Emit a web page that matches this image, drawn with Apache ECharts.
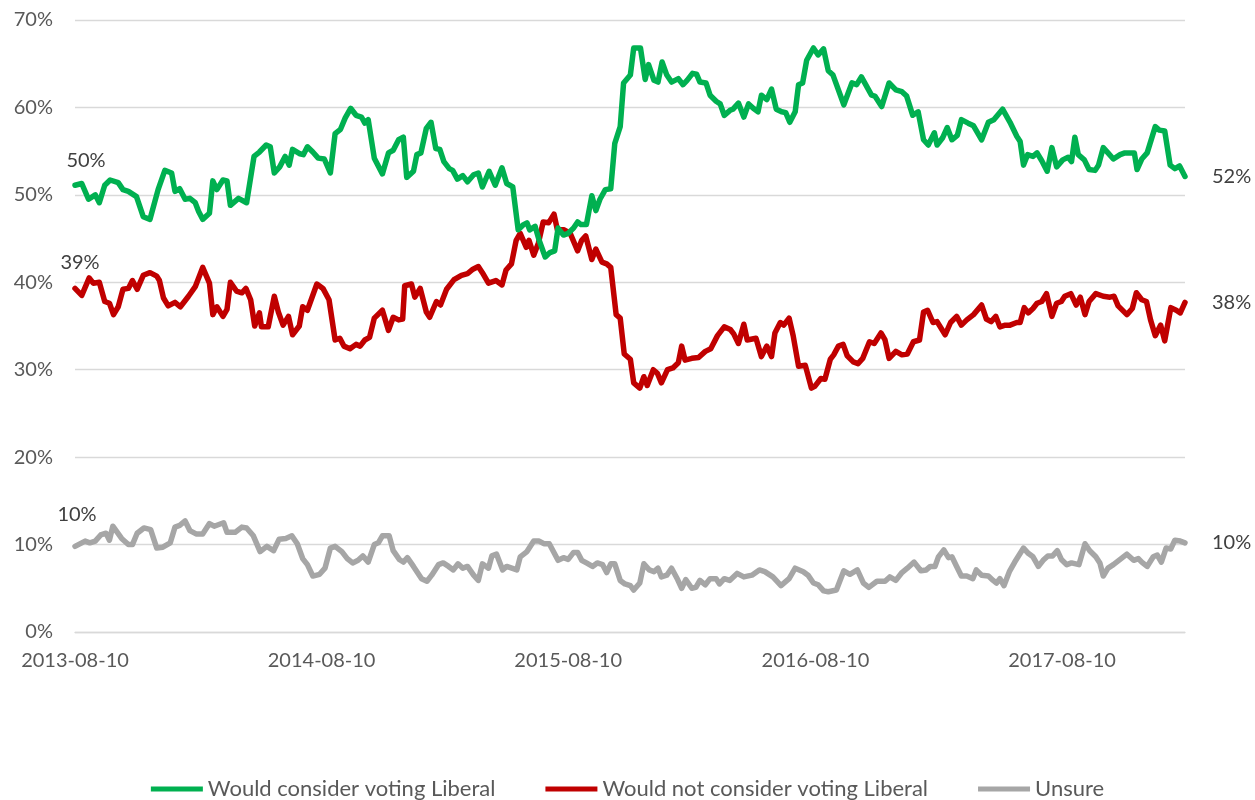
<!DOCTYPE html>
<html>
<head>
<meta charset="utf-8">
<script src="https://cdn.jsdelivr.net/npm/echarts@6/dist/echarts.min.js"></script>
<style>
html,body{margin:0;padding:0;background:#fff;}
#chart{width:1255px;height:800px;}
</style>
</head>
<body>
<div id="chart"></div>
<script>
// ---- Data ----
const startDate = '2013-08-10';
const endDate = '2018-02-08';
const tickLabels = ['2013-08-10', '2014-08-10', '2015-08-10', '2016-08-10', '2017-08-10'];
const seriesNames = ['Would consider voting Liberal', 'Would not consider voting Liberal', 'Unsure'];
const startLabels = ['50%', '39%', '10%'];
const endLabels = ['52%', '38%', '10%'];

// days since start date / percentage
const considerDays = [0,10,20,30,36,44,52,64,71,79,91,101,111,123,133,143,148,155,163,170,178,183,189,199,204,210,219,225,230,242,254,265,273,283,289,295,303,311,317,322,333,338,344,352,360,369,373,378,385,393,400,408,416,424,429,434,443,455,464,471,479,486,491,501,506,512,520,527,534,540,546,554,559,566,574,581,590,597,603,613,622,632,639,648,656,664,669,673,681,687,696,703,710,715,723,730,738,744,749,757,765,771,777,785,793,799,807,812,822,827,837,844,849,857,863,869,876,883,893,900,906,914,920,925,934,940,949,955,961,970,974,982,990,997,1004,1011,1016,1024,1031,1038,1046,1052,1058,1066,1071,1077,1083,1093,1100,1108,1115,1122,1138,1150,1157,1164,1179,1184,1194,1205,1215,1224,1231,1240,1248,1256,1263,1272,1276,1284,1291,1298,1306,1312,1322,1330,1342,1352,1360,1373,1384,1394,1399,1404,1410,1418,1424,1431,1439,1446,1453,1462,1470,1475,1480,1485,1494,1501,1510,1515,1522,1529,1537,1547,1554,1568,1572,1579,1587,1599,1605,1613,1621,1628,1635,1643];
const considerPct = [51.1,51.3,49.5,50.0,49.1,51.1,51.7,51.4,50.6,50.4,49.8,47.5,47.2,50.6,52.8,52.5,50.4,50.7,49.5,49.6,49.1,48.1,47.2,47.9,51.6,50.6,51.7,51.6,48.8,49.6,49.1,54.4,54.9,55.7,55.5,52.5,53.2,54.4,53.4,55.2,54.7,54.6,55.5,54.9,54.2,54.1,53.4,52.5,57.0,57.5,58.8,59.9,59.1,58.9,58.2,58.6,54.2,52.4,54.8,55.1,56.3,56.6,52.0,52.7,54.6,54.8,57.6,58.3,55.3,55.2,53.8,53.0,52.8,51.8,52.2,51.5,52.3,52.5,50.9,52.7,51.1,53.1,51.3,50.9,46.0,46.6,46.8,46.0,46.4,44.8,42.9,43.4,43.6,46.2,45.4,45.6,46.2,46.9,46.6,46.6,49.9,48.2,49.5,50.6,50.7,55.9,57.8,62.8,63.7,66.8,66.8,63.2,64.9,63.1,62.9,65.2,63.7,62.9,63.3,62.6,63.1,63.9,63.8,62.9,62.8,61.4,60.7,60.4,59.1,59.7,59.8,60.5,58.9,60.4,59.9,59.5,61.4,60.9,62.1,59.8,59.5,59.4,58.3,59.5,62.6,62.8,65.4,66.8,66.0,66.7,64.2,63.7,60.3,62.8,62.6,63.5,61.4,61.3,60.1,62.8,62.0,61.8,61.3,59.1,59.5,56.3,55.7,57.1,55.7,56.5,57.7,56.3,56.8,58.6,58.2,57.9,56.3,58.3,58.6,59.8,58.3,56.7,56.1,53.4,54.6,54.4,54.8,53.9,52.7,55.4,53.2,54.0,54.3,53.8,56.6,54.6,54.0,52.9,52.8,53.4,55.4,54.8,54.1,54.6,54.8,54.8,52.9,54.1,54.8,57.8,57.4,57.3,53.4,53.0,53.3,52.1];

const notConsiderDays = [0,10,21,27,36,44,51,57,64,71,79,85,92,101,111,121,125,131,138,148,156,168,178,189,199,204,210,219,225,230,239,247,253,260,266,273,276,286,295,301,308,316,322,332,337,344,358,367,376,385,392,398,407,416,422,429,436,443,455,464,471,479,485,488,498,503,511,520,525,535,541,550,561,572,581,589,597,603,612,623,632,638,646,653,659,668,672,679,686,693,701,709,714,724,733,744,750,756,765,771,780,787,793,801,807,813,822,827,836,842,847,856,862,868,877,885,893,898,903,913,923,933,941,951,961,970,975,982,990,995,1008,1016,1024,1031,1036,1044,1049,1057,1063,1071,1081,1090,1095,1104,1110,1118,1123,1130,1137,1143,1152,1159,1166,1176,1183,1193,1199,1205,1215,1224,1232,1241,1250,1256,1262,1270,1276,1288,1296,1305,1312,1320,1330,1342,1349,1356,1363,1369,1377,1384,1394,1399,1405,1411,1418,1424,1431,1438,1446,1453,1460,1465,1474,1482,1488,1495,1501,1511,1522,1532,1538,1544,1557,1565,1571,1579,1586,1592,1599,1607,1613,1622,1630,1636,1643];
const notConsiderPct = [39.3,38.5,40.5,39.9,40.0,37.8,37.6,36.3,37.2,39.2,39.3,40.2,39.2,40.8,41.1,40.7,40.2,38.2,37.3,37.7,37.2,38.4,39.5,41.7,39.9,36.3,37.2,36.1,36.9,40.0,39.0,38.8,39.3,38.0,35.0,36.5,34.9,34.9,38.4,36.6,35.1,36.1,34.0,35.0,37.2,36.8,39.8,39.3,38.0,33.4,33.6,32.7,32.4,32.9,32.7,33.4,33.7,35.9,36.8,34.5,36.0,35.7,35.8,39.6,39.8,38.3,39.3,36.6,36.0,37.8,37.4,39.2,40.3,40.8,41.0,41.5,41.8,41.1,39.9,40.2,39.7,41.4,42.1,44.8,45.6,44.0,44.8,43.1,44.5,46.9,46.8,47.8,46.0,46.0,45.6,43.6,44.8,45.3,42.6,43.8,42.3,42.1,41.7,36.3,35.9,31.8,31.2,28.5,27.9,29.2,28.2,30.0,29.6,28.5,30.0,30.2,30.8,32.7,31.1,31.3,31.4,32.1,32.4,33.9,34.9,34.6,34.1,33.0,35.2,33.4,33.6,31.5,32.7,31.5,34.2,35.4,35.1,35.9,33.9,30.4,30.5,27.9,28.1,29.0,28.9,31.2,31.7,32.7,32.9,31.6,30.9,30.7,31.3,33.2,33.0,34.2,33.4,31.3,32.1,31.7,31.8,33.2,33.4,36.6,36.8,35.4,35.5,34.0,35.4,36.1,35.1,35.7,36.3,37.4,35.8,35.5,36.1,34.9,35.1,35.1,35.4,35.4,37.1,36.5,37.0,37.6,37.8,38.7,36.1,37.6,37.8,38.4,38.7,37.4,38.3,36.3,37.8,38.7,38.4,38.3,38.4,37.3,36.3,37.0,38.8,38.0,37.8,35.7,33.9,35.1,33.3,37.1,36.8,36.5,37.7];

const unsureDays = [0,15,22,30,38,46,51,56,69,79,85,92,102,112,121,130,141,148,155,163,170,180,189,199,206,220,225,237,247,254,264,274,284,294,302,312,321,329,337,344,352,362,370,378,385,395,403,411,419,426,434,443,449,455,465,471,480,486,492,501,513,521,528,538,545,553,560,567,574,581,590,597,603,612,617,624,633,639,654,659,669,679,687,694,702,715,723,730,738,744,750,757,766,773,781,787,793,799,807,814,822,827,836,842,850,857,863,868,876,883,892,898,904,913,919,925,933,940,949,954,961,969,980,990,1002,1013,1021,1033,1045,1057,1066,1078,1085,1093,1100,1108,1115,1127,1138,1147,1158,1167,1175,1187,1199,1206,1215,1224,1232,1242,1252,1260,1266,1273,1278,1286,1293,1298,1305,1312,1320,1329,1334,1342,1352,1359,1364,1369,1375,1383,1391,1404,1411,1418,1426,1433,1440,1447,1454,1460,1468,1475,1486,1495,1502,1511,1517,1522,1529,1537,1547,1557,1567,1574,1579,1587,1596,1602,1608,1615,1622,1628,1636,1643];
const unsurePct = [9.8,10.4,10.2,10.4,11.1,11.3,10.5,12.1,10.7,10.0,10.0,11.3,11.9,11.7,9.6,9.7,10.2,12.0,12.2,12.7,11.6,11.2,11.2,12.4,12.1,12.5,11.4,11.4,12.0,11.9,11.0,9.2,9.8,9.3,10.6,10.7,11.0,10.1,8.4,7.7,6.4,6.6,7.3,9.6,9.8,9.2,8.4,7.9,8.2,8.7,8.0,10.0,10.2,11.0,11.0,9.3,8.3,8.0,8.5,7.5,6.1,5.8,6.5,7.7,7.9,7.5,7.1,7.8,7.3,7.5,6.5,5.9,7.8,7.3,8.7,8.9,7.1,7.5,7.1,8.6,9.2,10.4,10.4,10.1,10.1,8.2,8.5,8.3,9.1,9.1,8.2,7.9,7.5,7.9,7.7,6.8,7.8,7.8,5.9,5.5,5.3,4.8,5.6,7.8,7.1,6.9,7.3,6.3,6.5,7.3,6.0,5.0,6.0,5.0,5.1,5.9,5.4,6.1,6.1,5.5,6.1,5.9,6.7,6.3,6.5,7.1,6.9,6.3,5.3,6.1,7.3,6.9,6.5,5.6,5.4,4.7,4.6,4.8,7.0,6.6,7.1,5.6,5.1,5.8,5.8,6.3,5.9,6.8,7.3,8.0,7.0,7.1,7.5,7.5,8.6,9.4,8.5,8.6,7.5,6.4,6.4,6.1,7.1,6.5,6.4,5.9,5.6,6.1,5.3,6.9,8.0,9.6,9.0,8.6,7.5,8.2,8.7,8.7,9.3,8.3,7.7,7.9,7.7,10.1,9.3,8.6,7.9,6.4,7.3,7.7,8.3,8.9,8.2,8.4,8.0,7.5,8.6,8.8,8.0,9.6,9.5,10.5,10.4,10.2];

// ---- Build ----
const DAY = 86400000;
const t0 = Date.parse(startDate);
const dayOf = s => Math.round((Date.parse(s) - t0) / DAY);
const tickDays = tickLabels.map(dayOf);
const maxDay = dayOf(endDate);

const colors = ['#00B050', '#C00000', '#A6A6A6'];
const allDays = [considerDays, notConsiderDays, unsureDays];
const allPct = [considerPct, notConsiderPct, unsurePct];
const textColor = '#404040';
const fontFamily = 'Lato, "Open Sans", sans-serif';
const startOffsets = [[11, -25], [5, -26], [2, -32]];

const series = seriesNames.map((name, i) => {
  const data = allDays[i].map((d, k) => [d, allPct[i][k]]);
  return {
    name, type: 'line', data,
    showSymbol: false, symbol: 'none',
    lineStyle: { color: colors[i], width: 5.5, join: 'round', cap: 'round' },
    itemStyle: { color: colors[i] },
    emphasis: { disabled: true },
    z: 3 - i,
    endLabel: {
      show: true, formatter: endLabels[i], distance: 27,
      color: textColor, fontSize: 20, fontFamily
    },
    markPoint: {
      symbol: 'circle', symbolSize: 0, silent: true,
      data: [{ coord: data[0] }],
      label: {
        show: true, position: 'inside', offset: startOffsets[i],
        formatter: startLabels[i], color: textColor, fontSize: 20, fontFamily
      }
    },
    animation: false
  };
});

const chart = echarts.init(document.getElementById('chart'), null, { renderer: 'canvas' });
chart.setOption({
  animation: false,
  textStyle: { fontFamily },
  grid: { left: 75, right: 70, top: 20, bottom: 168, containLabel: false },
  xAxis: {
    type: 'value', min: 0, max: maxDay,
    axisLine: { show: true, lineStyle: { color: '#D9D9D9', width: 1.3 } },
    axisTick: { show: false },
    splitLine: { show: false },
    axisLabel: {
      customValues: tickDays,
      formatter: v => tickLabels[tickDays.indexOf(v)] || '',
      color: '#595959', fontSize: 20, margin: 19, fontFamily,
      showMinLabel: true, showMaxLabel: true
    }
  },
  yAxis: {
    type: 'value', min: 0, max: 70, interval: 10,
    axisLine: { show: false }, axisTick: { show: false },
    splitLine: { lineStyle: { color: '#D9D9D9', width: 1.3 } },
    axisLabel: { formatter: '{value}%', color: '#595959', fontSize: 20, margin: 22, fontFamily }
  },
  legend: {
    data: seriesNames, top: 773, left: 'center',
    icon: 'rect', itemWidth: 52, itemHeight: 5, itemGap: 50,
    textStyle: { color: '#595959', fontSize: 22, fontFamily }
  },
  series
});
</script>
</body>
</html>
